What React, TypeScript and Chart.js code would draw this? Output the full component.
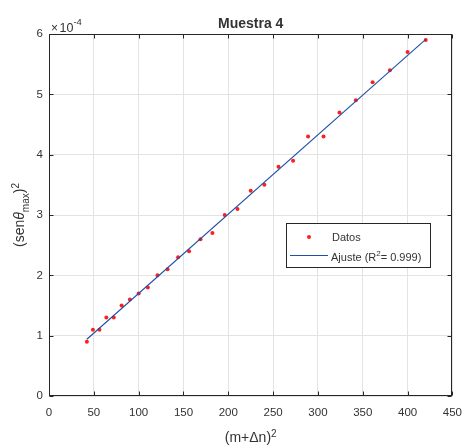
import { useEffect, useRef } from 'react';
import { Chart, registerables } from 'chart.js';

Chart.register(...registerables);

// (m+Δn)^2 values
const xValues = [42.25, 49, 56.25, 64, 72.25, 81, 90.25, 100, 110.25, 121, 132.25, 144, 156.25, 169, 182.25, 196, 210.25, 225, 240.25, 256, 272.25, 289, 306.25, 324, 342.25, 361, 380.25, 400, 420.25];
// (sen θmax)^2 values, in units of 1e-4
const yValues = [0.9, 1.1, 1.1, 1.3, 1.3, 1.5, 1.6, 1.7, 1.8, 2.0, 2.1, 2.3, 2.4, 2.6, 2.7, 3.0, 3.1, 3.4, 3.5, 3.8, 3.9, 4.3, 4.3, 4.7, 4.9, 5.2, 5.4, 5.7, 5.9];
// fit line endpoints, units of 1e-4
const fitX = [42.25, 420.25];
const fitY = [0.94, 5.91];
const xTicks = [0, 50, 100, 150, 200, 250, 300, 350, 400, 450];
const yTicks = [0, 1, 2, 3, 4, 5, 6];

const FONT = "'Liberation Sans', Arial, Helvetica, sans-serif";
const TEXT = '#333333';
const AXIS = '#262626';
const RED = '#ff1f1f';
const BLUE = '#1f4fa6';

type Part = { t: string; size: number; dy?: number; dx?: number; italic?: boolean; bold?: boolean };

function drawRich(ctx: CanvasRenderingContext2D, parts: Part[], cx: number, baseline: number, align: 'center' | 'left' = 'center') {
  const font = (p: Part) => `${p.italic ? 'italic ' : ''}${p.bold ? 'bold ' : ''}${p.size}px ${FONT}`;
  let total = 0;
  for (const p of parts) {
    ctx.font = font(p);
    total += ctx.measureText(p.t).width + (p.dx || 0);
  }
  let x = align === 'center' ? cx - total / 2 : cx;
  ctx.textAlign = 'left';
  ctx.textBaseline = 'alphabetic';
  for (const p of parts) {
    ctx.font = font(p);
    x += p.dx || 0;
    ctx.fillText(p.t, x, baseline + (p.dy || 0));
    x += ctx.measureText(p.t).width;
  }
}

const decorPlugin = {
  id: 'decor',
  afterDraw(chart: any) {
    const { ctx, chartArea } = chart;
    const xs = chart.scales.x;
    const ys = chart.scales.y;
    const L = Math.round(chartArea.left) + 0.5;
    const R = Math.round(chartArea.right) - 0.5;
    const T = Math.round(chartArea.top) + 0.5;
    const B = Math.round(chartArea.bottom) - 0.5;
    ctx.save();
    ctx.strokeStyle = AXIS;
    ctx.lineWidth = 1;
    ctx.strokeRect(L, T, R - L, B - T);
    const tl = 4;
    ctx.beginPath();
    for (const v of xTicks) {
      const px = Math.round(xs.getPixelForValue(v)) + 0.5;
      ctx.moveTo(px, B); ctx.lineTo(px, B - tl);
      ctx.moveTo(px, T); ctx.lineTo(px, T + tl);
    }
    for (const v of yTicks) {
      const py = Math.round(ys.getPixelForValue(v)) + 0.5;
      ctx.moveTo(L, py); ctx.lineTo(L + tl, py);
      ctx.moveTo(R, py); ctx.lineTo(R - tl, py);
    }
    ctx.stroke();

    ctx.fillStyle = TEXT;
    // Title
    drawRich(ctx, [{ t: 'Muestra 4', size: 14, bold: true }], (chartArea.left + chartArea.right) / 2, 28);
    // exponent multiplier
    drawRich(ctx, [
      { t: '×', size: 12 },
      { t: '10', size: 12.5, dx: 1.5 },
      { t: '-4', size: 9.5, dy: -7 },
    ], chartArea.left + 2, 32, 'left');
    // x axis title
    drawRich(ctx, [
      { t: '(m+Δn)', size: 14 },
      { t: '2', size: 10, dy: -5.5 },
    ], (chartArea.left + chartArea.right) / 2, 442);
    // y axis title
    ctx.save();
    ctx.translate(24, (chartArea.top + chartArea.bottom) / 2);
    ctx.rotate(-Math.PI / 2);
    drawRich(ctx, [
      { t: '(sen', size: 14 },
      { t: 'θ', size: 14, italic: true },
      { t: 'max', size: 10, dy: 5 },
      { t: ')', size: 14 },
      { t: '2', size: 10, dy: -5 },
    ], 0, 0);
    ctx.restore();

    // Legend
    const lx = 286.5, ly = 223.5, lw = 144, lh = 44;
    ctx.fillStyle = '#ffffff';
    ctx.fillRect(lx, ly, lw, lh);
    ctx.strokeStyle = AXIS;
    ctx.strokeRect(lx, ly, lw, lh);
    ctx.fillStyle = RED;
    ctx.beginPath();
    ctx.arc(309, 237, 2, 0, Math.PI * 2);
    ctx.fill();
    ctx.strokeStyle = BLUE;
    ctx.beginPath();
    ctx.moveTo(290, 255.5);
    ctx.lineTo(328, 255.5);
    ctx.stroke();
    ctx.fillStyle = TEXT;
    drawRich(ctx, [{ t: 'Datos', size: 11 }], 332, 240.5, 'left');
    drawRich(ctx, [
      { t: 'Ajuste (R', size: 11 },
      { t: '2', size: 8, dy: -5 },
      { t: '= 0.999)', size: 11 },
    ], 331, 261, 'left');
    ctx.restore();
  },
};

export default function App() {
  const ref = useRef<HTMLCanvasElement | null>(null);
  useEffect(() => {
    document.body.style.margin = '0';
    const canvas = ref.current;
    if (!canvas) return;
    const chart = new Chart(canvas, {
      type: 'scatter',
      data: {
        datasets: [
          {
            label: 'Ajuste',
            data: fitX.map((x, i) => ({ x, y: fitY[i] })),
            showLine: true,
            borderColor: BLUE,
            borderWidth: 1.1,
            pointRadius: 0,
            order: 1,
          },
          {
            label: 'Datos',
            data: xValues.map((x, i) => ({ x, y: yValues[i] })),
            showLine: false,
            pointRadius: 2,
            pointBackgroundColor: RED,
            pointBorderWidth: 0,
            borderColor: RED,
            order: 2,
          },
        ],
      },
      options: {
        animation: false,
        responsive: false,
        maintainAspectRatio: false,
        devicePixelRatio: 1,
        layout: { padding: { top: 34, right: 9, left: 0, bottom: 0 } },
        plugins: { legend: { display: false }, tooltip: { enabled: false }, title: { display: false } },
        scales: {
          x: {
            type: 'linear',
            min: 0,
            max: 450,
            afterBuildTicks: (s: any) => { s.ticks = xTicks.map((v) => ({ value: v })); },
            afterFit: (s: any) => { s.height = 50; },
            ticks: { color: TEXT, font: { family: FONT, size: 11.5 }, padding: 10, maxRotation: 0, autoSkip: false },
            grid: { color: '#e3e3e3', drawTicks: false },
            border: { display: false },
          },
          y: {
            type: 'linear',
            min: 0,
            max: 6,
            afterBuildTicks: (s: any) => { s.ticks = yTicks.map((v) => ({ value: v })); },
            afterFit: (s: any) => { s.width = 49; },
            ticks: { color: TEXT, font: { family: FONT, size: 11.5 }, padding: 6, autoSkip: false },
            grid: { color: '#e3e3e3', drawTicks: false },
            border: { display: false },
          },
        },
      },
      plugins: [decorPlugin],
    });
    return () => chart.destroy();
  }, []);
  return (
    <div style={{ position: 'absolute', left: 0, top: 0, width: 472, height: 446, background: '#ffffff' }}>
      <canvas ref={ref} width={472} height={446} style={{ display: 'block', width: 472, height: 446 }} />
    </div>
  );
}
